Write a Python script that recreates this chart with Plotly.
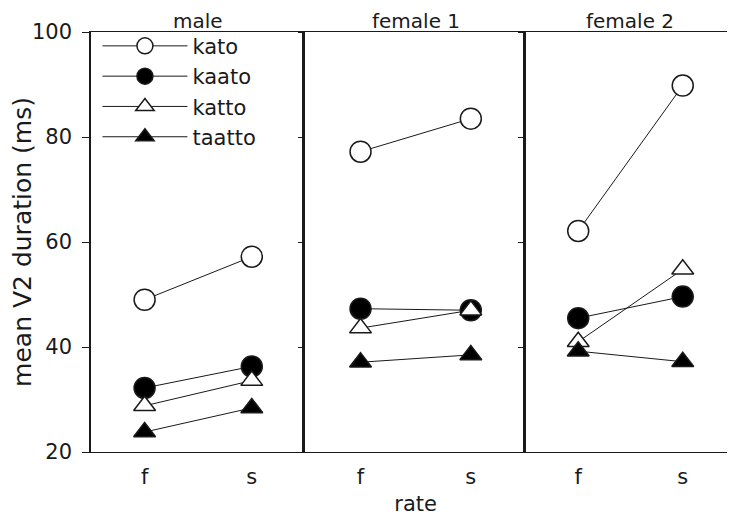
import plotly.graph_objects as go

rate = ["f", "s"]
panels = ["male", "female 1", "female 2"]
series = ["kato", "kaato", "katto", "taatto"]

kato = [[49.0, 57.2], [77.2, 83.5], [62.1, 89.8]]
kaato = [[32.2, 36.3], [47.3, 47.0], [45.5, 49.6]]
katto = [[28.8, 33.6], [43.6, 47.0], [41.0, 54.8]]
taatto = [[23.8, 28.4], [37.1, 38.5], [39.2, 37.2]]

y_ticks = [20, 40, 60, 80, 100]

values = {"kato": kato, "kaato": kaato, "katto": katto, "taatto": taatto}
styles = {
    "kato": dict(symbol="circle", size=21, color="white"),
    "kaato": dict(symbol="circle", size=21, color="black"),
    "katto": dict(symbol="triangle-up", size=19, color="white"),
    "taatto": dict(symbol="triangle-up", size=19, color="black"),
}

FONT = "DejaVu Sans"
INK = "#1a1a1a"

fig = go.Figure()
domains = [[0.0, 0.3329], [0.3329, 0.6754], [0.6754, 1.0]]

for p in range(3):
    xa = "x" if p == 0 else f"x{p+1}"
    ya = "y" if p == 0 else f"y{p+1}"
    for s in series:
        st = styles[s]
        fig.add_trace(go.Scatter(
            x=rate, y=values[s][p], xaxis=xa, yaxis=ya,
            mode="lines+markers", name=s, legendgroup=s,
            showlegend=(p == 0),
            line=dict(color=INK, width=1),
            marker=dict(symbol=st["symbol"], size=st["size"], color=st["color"],
                        line=dict(color=INK, width=1.5)),
        ))

# page has an 8px body margin, so the figure is drawn 8px smaller
layout = dict(
    width=727, height=513,
    margin=dict(l=77, r=0, t=24, b=69),
    paper_bgcolor="white", plot_bgcolor="white",
    font=dict(family=FONT, size=21, color=INK),
    showlegend=True,
    legend=dict(x=0.01, y=1.015, xanchor="left", yanchor="top",
                bgcolor="rgba(0,0,0,0)", font=dict(size=21, family=FONT, color=INK),
                itemwidth=85, tracegroupgap=0),
    annotations=[],
)

for p in range(3):
    xkey = "xaxis" if p == 0 else f"xaxis{p+1}"
    ykey = "yaxis" if p == 0 else f"yaxis{p+1}"
    layout[xkey] = dict(
        domain=domains[p], type="category", range=[-0.5, 1.5],
        anchor="y" if p == 0 else f"y{p+1}",
        showline=True, mirror=True, linecolor=INK, linewidth=1.2,
        showgrid=False, zeroline=False, ticks="", tickfont=dict(size=21),
        ticklabelstandoff=6,
    )
    layout[ykey] = dict(
        domain=[0, 1], range=[20, 100], tickvals=y_ticks,
        anchor="x" if p == 0 else f"x{p+1}",
        showline=True, mirror=False, linecolor=INK,
        linewidth=1.5 if p == 0 else 2.5,
        showgrid=False, zeroline=False,
        ticks="outside", ticklen=7 if p == 0 else 5, tickcolor=INK,
        showticklabels=(p == 0),
        tickfont=dict(size=21),
    )
    if p > 0:
        layout[ykey]["matches"] = "y"
    else:
        layout[ykey]["ticklabelstandoff"] = 6
    layout["annotations"].append(dict(
        text=panels[p], xref="paper", yref="paper",
        x=(domains[p][0] + domains[p][1]) / 2, y=1.0,
        xanchor="center", yanchor="bottom", showarrow=False,
        font=dict(size=20, family=FONT, color=INK), yshift=-3,
    ))

layout["yaxis"]["title"] = dict(text="mean V2 duration (ms)", font=dict(size=25), standoff=6)
layout["xaxis2"]["title"] = dict(text="rate", font=dict(size=21), standoff=8)

fig.update_layout(**layout)
fig.write_html("out.html")
